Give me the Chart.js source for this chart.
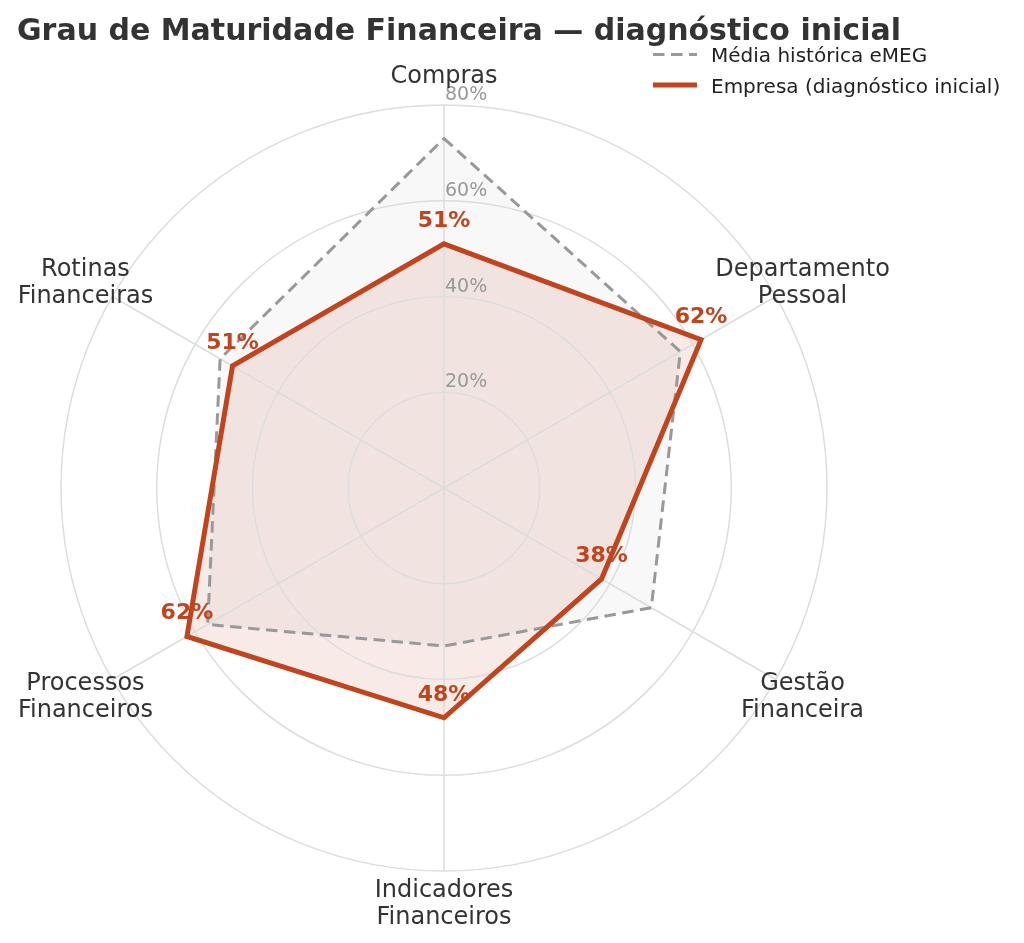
<!DOCTYPE html>
<html>
<head>
<meta charset="utf-8">
<script src="https://cdn.jsdelivr.net/npm/chart.js@4.4.1/dist/chart.umd.min.js"></script>
<style>
  html, body { margin: 0; padding: 0; background: #ffffff; }
  #wrap { position: relative; width: 1024px; height: 943px; }
</style>
</head>
<body>
<div id="wrap"><canvas id="c" width="1024" height="943"></canvas></div>
<script>
// ---- data ----
const chartTitle = 'Grau de Maturidade Financeira — diagnóstico inicial';
const categories = [
  ['Compras'],
  ['Departamento', 'Pessoal'],
  ['Gestão', 'Financeira'],
  ['Indicadores', 'Financeiros'],
  ['Processos', 'Financeiros'],
  ['Rotinas', 'Financeiras']
];
const seriesNames = ['Média histórica eMEG', 'Empresa (diagnóstico inicial)'];
const mediaValues = [73, 57, 50, 33, 57, 54];
const empresaValues = [51, 62, 38, 48, 62, 51];
const tickValues = [20, 40, 60, 80];
const tickLabels = ['20%', '40%', '60%', '80%'];

// ---- styles ----
const ORANGE = '#C0441E';
const GRAY = '#999999';
const GRID = '#dddddd';
const FONT = '"DejaVu Sans", "Liberation Sans", sans-serif';

// grid drawn above the fills but below the outlines
function drawRadarGrid(chart) {
  const ctx = chart.ctx;
  const r = chart.scales.r;
  ctx.save();
  ctx.strokeStyle = GRID;
  ctx.lineWidth = 1.5;
  tickValues.forEach(v => {
    const d = r.getDistanceFromCenterForValue(v);
    ctx.beginPath();
    ctx.arc(r.xCenter, r.yCenter, d, 0, Math.PI * 2);
    ctx.stroke();
  });
  categories.forEach((c, i) => {
    const p = r.getPointPosition(i, r.drawingArea);
    ctx.beginPath();
    ctx.moveTo(r.xCenter, r.yCenter);
    ctx.lineTo(p.x, p.y);
    ctx.stroke();
  });
  ctx.restore();
}

const overlay = {
  id: 'overlay',
  beforeDatasetDraw(chart, args) {
    if (args.index === 2) drawRadarGrid(chart);
  },
  afterDraw(chart) {
    const ctx = chart.ctx;
    const r = chart.scales.r;
    ctx.save();

    // radial tick labels
    ctx.font = '19px ' + FONT;
    ctx.fillStyle = '#999999';
    ctx.textAlign = 'left';
    ctx.textBaseline = 'alphabetic';
    tickValues.forEach((v, i) => {
      const d = r.getDistanceFromCenterForValue(v);
      ctx.fillText(tickLabels[i], r.xCenter + 1, r.yCenter - d - 5);
    });

    // category labels
    ctx.font = '24px ' + FONT;
    ctx.fillStyle = '#333333';
    ctx.textAlign = 'center';
    const lh = 27;
    categories.forEach((lines, i) => {
      const p = r.getPointPosition(i, r.drawingArea + 31);
      const y0 = p.y - (lines.length - 1) * lh / 2 + 8.75;
      lines.forEach((t, k) => ctx.fillText(t, p.x, y0 + k * lh));
    });

    // value labels for company series
    const meta = chart.getDatasetMeta(3);
    ctx.font = 'bold 22px ' + FONT;
    ctx.fillStyle = ORANGE;
    ctx.textAlign = 'center';
    meta.data.forEach((pt, i) => {
      ctx.fillText(empresaValues[i] + '%', pt.x, pt.y - 17);
    });

    // title
    ctx.font = 'bold 30px ' + FONT;
    ctx.fillStyle = '#333333';
    ctx.textAlign = 'left';
    ctx.fillText(chartTitle, 17, 40);

    // legend
    ctx.lineCap = 'butt';
    ctx.lineWidth = 3;
    ctx.strokeStyle = GRAY;
    ctx.setLineDash([11.5, 6.5]);
    ctx.beginPath(); ctx.moveTo(653, 54.5); ctx.lineTo(697, 54.5); ctx.stroke();
    ctx.setLineDash([]);
    ctx.lineWidth = 5;
    ctx.strokeStyle = ORANGE;
    ctx.beginPath(); ctx.moveTo(653, 85); ctx.lineTo(697, 85); ctx.stroke();
    ctx.font = '20px ' + FONT;
    ctx.fillStyle = '#222222';
    ctx.fillText(seriesNames[0], 711, 62.3);
    ctx.fillText(seriesNames[1], 711, 92.7);

    ctx.restore();
  }
};

const common = { pointRadius: 0, pointHoverRadius: 0, tension: 0 };

new Chart(document.getElementById('c'), {
  type: 'radar',
  data: {
    labels: categories,
    datasets: [
      Object.assign({
        label: seriesNames[0] + ' (área)',
        data: mediaValues,
        borderWidth: 0,
        borderColor: 'rgba(0,0,0,0)',
        backgroundColor: 'rgba(150,150,150,0.07)',
        fill: true,
        order: 4
      }, common),
      Object.assign({
        label: seriesNames[1] + ' (área)',
        data: empresaValues,
        borderWidth: 0,
        borderColor: 'rgba(0,0,0,0)',
        backgroundColor: 'rgba(192,68,30,0.11)',
        fill: true,
        order: 3
      }, common),
      Object.assign({
        label: seriesNames[0],
        data: mediaValues,
        borderColor: GRAY,
        borderWidth: 3,
        borderDash: [11.5, 6.5],
        backgroundColor: 'rgba(0,0,0,0)',
        fill: false,
        order: 2
      }, common),
      Object.assign({
        label: seriesNames[1],
        data: empresaValues,
        borderColor: ORANGE,
        borderWidth: 5,
        backgroundColor: 'rgba(0,0,0,0)',
        fill: false,
        order: 1
      }, common)
    ]
  },
  options: {
    responsive: false,
    animation: false,
    layout: { padding: { left: 61, top: 105, right: 197, bottom: 72 } },
    plugins: {
      legend: { display: false },
      tooltip: { enabled: false },
      title: { display: false }
    },
    scales: {
      r: {
        min: 0,
        max: tickValues[tickValues.length - 1],
        ticks: { stepSize: tickValues[0], display: false },
        pointLabels: { display: false },
        grid: { display: false, circular: true },
        angleLines: { display: false }
      }
    }
  },
  plugins: [overlay]
});
</script>
</body>
</html>
